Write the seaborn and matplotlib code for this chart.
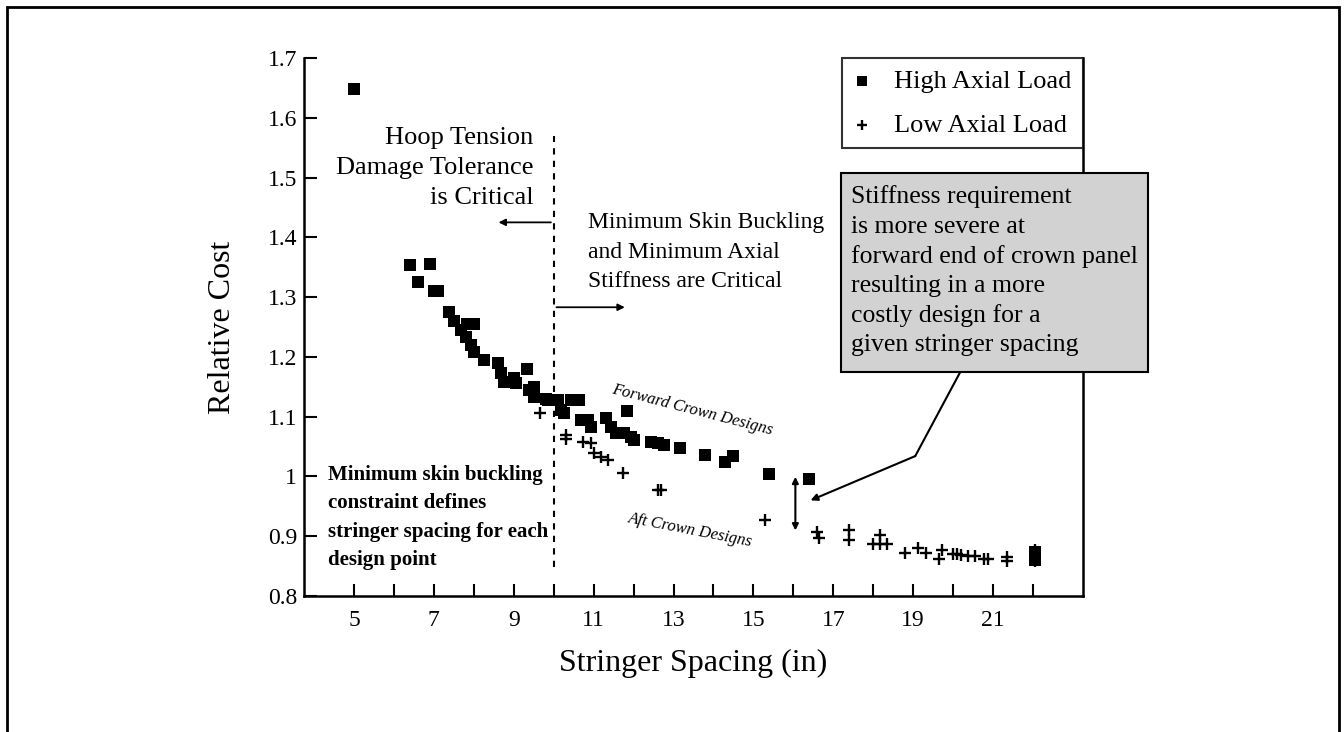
import numpy as np
import pandas as pd
import seaborn as sns
import matplotlib.pyplot as plt
from matplotlib.patches import Rectangle

sns.set_theme(style="white")
plt.rcParams['font.family'] = ['Liberation Serif', 'DejaVu Serif']
plt.rcParams['text.color'] = 'black'
plt.rcParams['axes.labelcolor'] = 'black'

# High axial load designs (squares)
high_x = [5.0, 6.4, 6.9, 6.6, 7.0, 7.1, 7.38, 7.5, 7.68, 7.8, 7.83, 8.0, 7.93, 8.0, 8.25,
          8.6, 8.68, 8.75, 9.0, 9.05, 9.33, 9.38, 9.5, 9.5, 9.8, 9.85, 10.1, 10.18, 10.25,
          10.43, 10.63, 10.68, 10.85, 10.93, 11.3, 11.43, 11.55, 11.75, 11.83, 11.93, 12.0,
          12.43, 12.6, 12.75, 13.15, 13.78, 14.3, 14.48, 15.38, 16.4, 22.05, 22.05]
high_y = [1.648, 1.353, 1.355, 1.325, 1.31, 1.31, 1.275, 1.26, 1.245, 1.233, 1.255, 1.255,
          1.22, 1.208, 1.195, 1.19, 1.173, 1.158, 1.165, 1.156, 1.18, 1.145, 1.15, 1.133,
          1.13, 1.128, 1.128, 1.111, 1.106, 1.128, 1.128, 1.094, 1.094, 1.083, 1.098, 1.083,
          1.073, 1.073, 1.109, 1.066, 1.061, 1.058, 1.056, 1.053, 1.047, 1.036, 1.024, 1.034,
          1.004, 0.996, 0.873, 0.86]

# Low axial load designs (pluses)
low_x = [9.65, 10.3, 10.3, 10.73, 10.93, 11.0, 11.18, 11.35, 11.73, 12.6, 12.68, 15.3,
         16.6, 16.63, 17.38, 17.38, 18.0, 18.18, 18.18, 18.35, 18.8, 19.13, 19.33, 19.65,
         19.73, 20.0, 20.1, 20.2, 20.38, 20.55, 20.78, 20.88, 21.35, 21.35, 22.05, 22.05, 22.05]
low_y = [1.106, 1.069, 1.062, 1.058, 1.056, 1.039, 1.033, 1.027, 1.006, 0.977, 0.977, 0.927,
         0.907, 0.897, 0.91, 0.894, 0.887, 0.902, 0.887, 0.887, 0.872, 0.880, 0.872, 0.862,
         0.877, 0.870, 0.870, 0.868, 0.867, 0.867, 0.862, 0.862, 0.865, 0.858, 0.877, 0.868, 0.858]

x_ticks = list(range(5, 23))
x_labels = [str(t) if t % 2 == 1 else "" for t in x_ticks]
y_ticks = [0.8, 0.9, 1.0, 1.1, 1.2, 1.3, 1.4, 1.5, 1.6, 1.7]
y_labels = ["0.8", "0.9", "1", "1.1", "1.2", "1.3", "1.4", "1.5", "1.6", "1.7"]

box_lines = ["Stiffness requirement", "is more severe at", "forward end of crown panel",
             "resulting in a more", "costly design for a", "given stringer spacing"]

fig = plt.figure(figsize=(13.44, 7.32), dpi=100)
ax = fig.add_axes([0.2262, 0.1858, 0.5796, 0.735])

sns.scatterplot(x=high_x, y=high_y, marker="s", color="black", s=85, edgecolor="black",
                linewidth=0, ax=ax, label="High Axial Load")
sns.scatterplot(x=low_x, y=low_y, marker="+", color="black", s=75, linewidth=1.7,
                ax=ax, label="Low Axial Load")

ax.set_xlim(3.75, 23.25)
ax.set_ylim(0.8, 1.7)
ax.set_xticks(x_ticks)
ax.set_xticklabels(x_labels)
ax.set_yticks(y_ticks)
ax.set_yticklabels(y_labels)
ax.tick_params(direction="in", length=9, width=1.5, labelsize=17, colors="black",
               bottom=True, left=True, pad=5)
ax.tick_params(axis="x", pad=10)
for side in ["left", "bottom", "right"]:
    ax.spines[side].set_color("black")
    ax.spines[side].set_linewidth(1.8)
ax.spines["top"].set_visible(False)
ax.set_xlabel("Stringer Spacing (in)", fontsize=23, labelpad=13)
ax.set_ylabel("Relative Cost", fontsize=23, labelpad=22)

leg = ax.legend(loc="upper right", bbox_to_anchor=(1.0, 1.0), borderaxespad=0,
                fontsize=19, frameon=True, fancybox=False, handletextpad=0.9,
                borderpad=0.45, labelspacing=0.75, markerscale=0.8, handlelength=0.6)
leg.get_frame().set_edgecolor("black")
leg.get_frame().set_linewidth(1.5)

# region boundary
ax.plot([10, 10], [0.848, 1.57], ls=(0, (3, 3)), color="black", lw=1.5)
ax.annotate("", xy=(8.55, 1.425), xytext=(10, 1.425),
            arrowprops=dict(arrowstyle="-|>", color="black", lw=1.3, mutation_scale=10))
ax.annotate("", xy=(11.85, 1.283), xytext=(10, 1.283),
            arrowprops=dict(arrowstyle="-|>", color="black", lw=1.3, mutation_scale=10))

ax.text(9.5, 1.516, "Hoop Tension\nDamage Tolerance\nis Critical", ha="right", va="center",
        fontsize=19, linespacing=1.45)
ax.text(10.85, 1.375, "Minimum Skin Buckling\nand Minimum Axial\nStiffness are Critical",
        ha="left", va="center", fontsize=17, linespacing=1.52)
ax.text(4.35, 0.931, "Minimum skin buckling\nconstraint defines\nstringer spacing for each\ndesign point",
        ha="left", va="center", fontsize=15, fontweight="bold", linespacing=1.56)
ax.text(13.48, 1.111, "Forward Crown Designs", rotation=-14.5, ha="center", va="center",
        fontsize=12, style="italic")
ax.text(13.43, 0.910, "Aft Crown Designs", rotation=-11, ha="center", va="center",
        fontsize=12, style="italic")

ax.annotate("", xy=(16.05, 0.905), xytext=(16.05, 1.004),
            arrowprops=dict(arrowstyle="<|-|>", color="black", lw=1.5, mutation_scale=9))

# callout box
ax.add_patch(Rectangle((0.689, 0.4164), 0.3945, 0.3696, transform=ax.transAxes,
                       facecolor="#d2d2d2", edgecolor="black", lw=1.5, clip_on=False, zorder=4))
for i, line in enumerate(box_lines):
    ax.text(0.702, 0.7416 - i * 0.055, line, transform=ax.transAxes, ha="left",
            va="center", fontsize=18.5, zorder=5)
ax.plot([20.18, 19.05], [1.175, 1.034], color="black", lw=1.5)
ax.annotate("", xy=(16.43, 0.96), xytext=(19.05, 1.034),
            arrowprops=dict(arrowstyle="-|>", color="black", lw=1.5, mutation_scale=10,
                            shrinkA=0, shrinkB=0))

fig.patches.append(Rectangle((7 / 1344, -0.1), 1332 / 1344, 1.1 - 7 / 732,
                             transform=fig.transFigure, fill=False, edgecolor="black", lw=2))

plt.savefig("out.png", dpi=100)
